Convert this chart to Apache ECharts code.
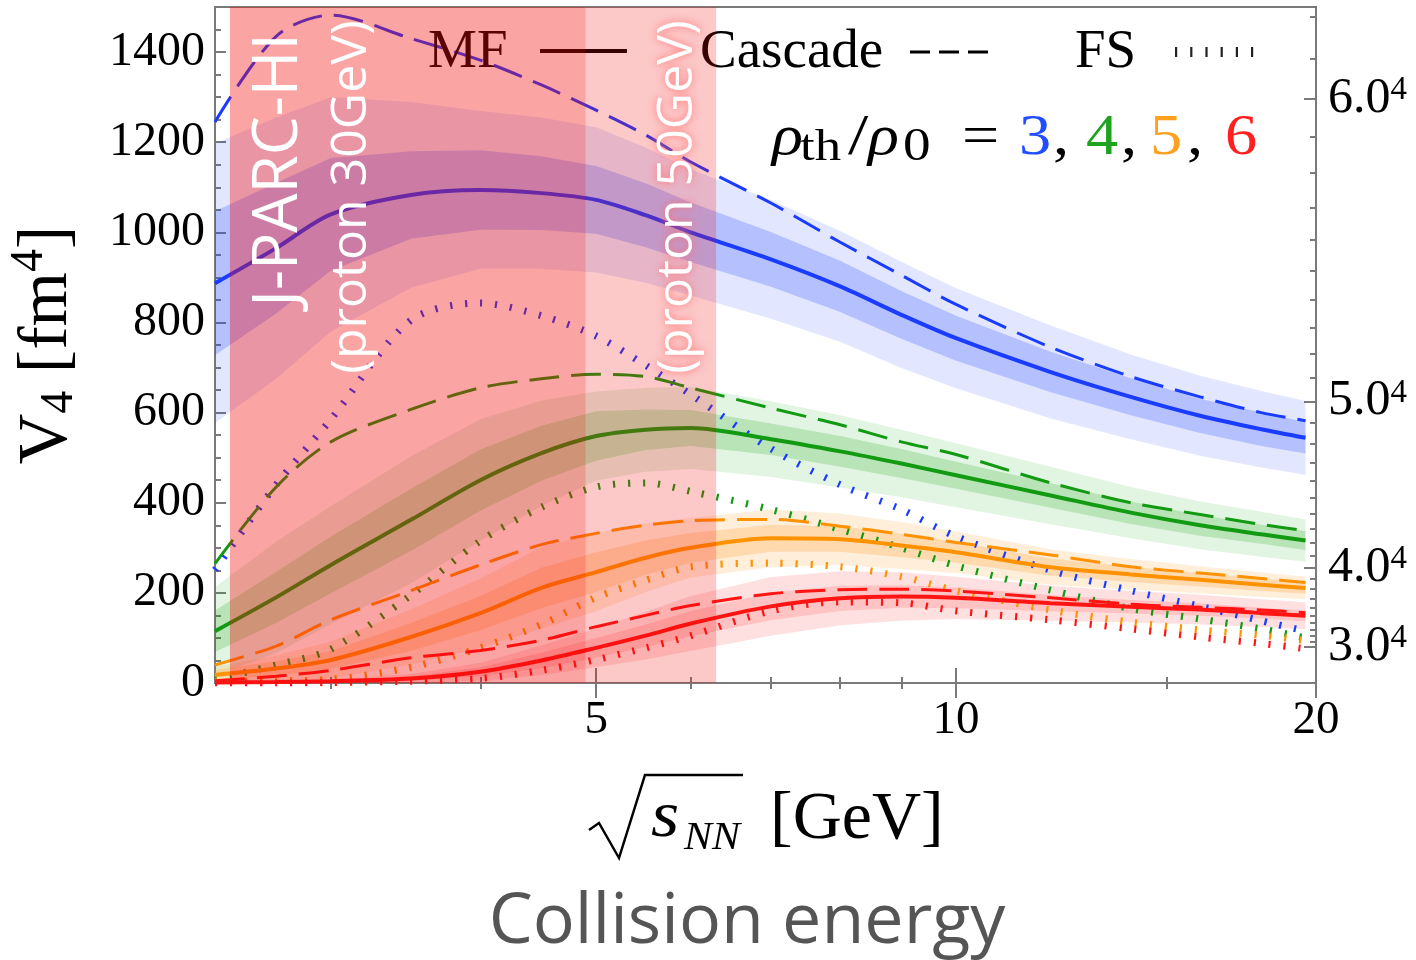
<!DOCTYPE html>
<html><head><meta charset="utf-8">
<script src="https://cdn.jsdelivr.net/npm/echarts@6/dist/echarts.min.js"></script>
<style>html,body{margin:0;padding:0;background:#fff}#c{width:1416px;height:960px}</style>
</head><body><div id="c"></div>
<script>
// ---------------- data ----------------
const energies = [2.4, 2.7, 3, 3.5, 4, 4.5, 5, 5.5, 6, 7, 8, 9, 10, 12, 14, 16, 18, 19.6];

const blueMF      = [887, 965, 1040, 1083, 1094, 1087, 1072, 1038, 1000, 940, 880, 817, 765, 690, 635, 593, 563, 544];
const blueCascade = [1245, 1435, 1482, 1430, 1382, 1327, 1271, 1216, 1156, 1065, 978, 905, 840, 745, 680, 635, 600, 582];
const blueFS      = [251, 440, 585, 805, 843, 815, 770, 705, 640, 520, 440, 385, 325, 250, 205, 170, 138, 115];
const blueInner   = [160, 145, 125, 97, 88, 82, 75, 71, 66, 61, 57, 53, 50, 45, 41, 38, 37, 35];
const blueOuter   = [310, 290, 260, 206, 175, 168, 161, 150, 140, 132, 123, 118, 111, 103, 94, 89, 85, 82];

const greenMF      = [115, 190, 262, 362, 450, 510, 548, 562, 566, 541, 514, 487, 461, 416, 378, 350, 330, 316];
const greenCascade = [265, 435, 535, 607, 655, 675, 685, 680, 655, 610, 573, 535, 507, 444, 400, 374, 352, 338];
const greenFS      = [8, 40, 75, 195, 315, 390, 435, 444, 425, 385, 341, 300, 260, 206, 165, 142, 120, 100];
const greenInner   = [46, 57, 63, 69, 68, 61, 55, 45, 40, 35, 34, 32, 30, 27, 25, 23, 21, 21];
const greenOuter   = [98, 124, 131, 141, 135, 117, 99, 93, 91, 84, 80, 75, 71, 64, 57, 53, 50, 47];

const orangeMF      = [18, 32, 51, 102, 155, 211, 246, 278, 300, 321, 319, 305, 290, 257, 241, 229, 218, 211];
const orangeCascade = [40, 82, 140, 205, 262, 307, 332, 350, 360, 363, 348, 330, 312, 284, 258, 244, 232, 223];
const orangeFS      = [3, 5, 8, 35, 78, 130, 190, 228, 258, 266, 258, 236, 205, 162, 135, 118, 106, 94];
const orangeInner   = [11, 16, 20, 31, 38, 45, 44, 38, 33, 30, 28, 26, 23, 19, 17, 15, 14, 13];
const orangeOuter   = [18, 29, 41, 61, 77, 90, 87, 76, 66, 64, 57, 52, 46, 39, 34, 30, 27, 25];

const redMF      = [1, 2, 4, 10, 25, 50, 78, 105, 132, 170, 188, 192, 189, 177, 169, 163, 155, 149];
const redCascade = [5, 15, 28, 56, 72, 95, 125, 150, 172, 198, 207, 208, 204, 189, 175, 168, 162, 156];
const redFS      = [0, 0, 1, 4, 10, 28, 52, 78, 105, 160, 180, 178, 160, 140, 120, 102, 88, 76];
const redInner   = [1, 1, 2, 5, 10, 17, 22, 25, 28, 31, 28, 25, 23, 18, 15, 14, 12, 12];
const redOuter   = [1, 2, 4, 10, 20, 33, 43, 53, 61, 65, 60, 54, 47, 39, 35, 33, 31, 30];

// J-PARC energy spans (sqrt(sNN) in GeV)
const jparcSpans = [[2.47, 4.9], [4.9, 6.3]];

// axis ticks
const xMajorTicks = [5, 10, 20];
const xLabelTicks = [5, 10, 20];
const xMinorTicks = [3, 4, 6, 7, 8, 9, 15];
const yLabelTicks = [0, 200, 400, 600, 800, 1000, 1200, 1400];
const rightMajorRoots = [3.0, 4.0, 5.0, 6.0];
const rightMinorRoots = [3.1,3.2,3.3,3.4,3.5,3.6,3.7,3.8,3.9,4.1,4.2,4.3,4.4,4.5,4.6,4.7,4.8,4.9,
                         5.1,5.2,5.3,5.4,5.5,5.6,5.7,5.8,5.9,6.1,6.2];

// ---------------- styling ----------------
const SERIF = 'Liberation Serif';
const SANS = 'Open Sans';
const AXC = '#7a7a7a';
const colors = {
  blue:   {line:'#1a3cff', band:'30,70,255',  ai:0.23, ao:0.13},
  green:  {line:'#129a12', band:'0,160,0',    ai:0.19, ao:0.115},
  orange: {line:'#ff9200', band:'255,140,0',  ai:0.20, ao:0.15},
  red:    {line:'#ff1414', band:'255,0,0',    ai:0.13, ao:0.12}
};

const sets = [
  ['blue', blueMF, blueCascade, blueFS, blueInner, blueOuter],
  ['green', greenMF, greenCascade, greenFS, greenInner, greenOuter],
  ['orange', orangeMF, orangeCascade, orangeFS, orangeInner, orangeOuter],
  ['red', redMF, redCascade, redFS, redInner, redOuter]
];

function pairs(arr) { return energies.map((x, i) => [x, arr[i]]); }

function bandSeries(mf, half, fill) {
  return {
    type: 'custom', z: 2, silent: true, animation: false, clip: true,
    data: [[energies[0], mf[0]]],
    renderItem(params, api) {
      const up = energies.map((x, i) => api.coord([x, mf[i] + half[i]]));
      const lo = energies.map((x, i) => api.coord([x, Math.max(0, mf[i] - half[i])])).reverse();
      return {type: 'polygon', shape: {points: up.concat(lo)}, style: {fill: fill}};
    }
  };
}

const series = [];
sets.forEach(s => {
  const c = colors[s[0]];
  series.push(bandSeries(s[1], s[5], `rgba(${c.band},${c.ao})`));
  series.push(bandSeries(s[1], s[4], `rgba(${c.band},${c.ai})`));
});
sets.forEach(s => {
  const c = colors[s[0]];
  series.push({type:'line', data: pairs(s[3]), showSymbol:false, smooth:0.3, z:3, silent:true,
    lineStyle:{color:c.line, width:7, type:[2.2, 12.8], cap:'butt'}});
  series.push({type:'line', data: pairs(s[2]), showSymbol:false, smooth:0.3, z:3, silent:true,
    lineStyle:{color:c.line, width:3, type:[30, 12], cap:'butt'}});
  series.push({type:'line', data: pairs(s[1]), showSymbol:false, smooth:0.3, z:3, silent:true,
    lineStyle:{color:c.line, width:4}});
});
// J-PARC shading on top of the curves
const jparcAlpha = [0.37, 0.224];
series.push({
  type: 'custom', z: 10, silent: true,
  data: jparcSpans.map((s, i) => [s[0], s[1], i]),
  renderItem(params, api) {
    const cs = params.coordSys;
    const x0 = api.coord([api.value(0), 100])[0];
    const x1 = api.coord([api.value(1), 100])[0];
    return {type:'rect', shape:{x:x0, y:cs.y, width:x1 - x0, height:cs.height},
      style:{fill:`rgba(243,9,9,${jparcAlpha[api.value(2)]})`}};
  }
});

const xBase = {type:'log', min:2.4, max:20, gridIndex:0, axisLine:{show:false}, splitLine:{show:false}, minorTick:{show:false}};
const yBase = {type:'value', min:0, max:1500, gridIndex:0, axisLine:{show:false}, splitLine:{show:false}};
const tickStyle = {color:AXC, width:2};

const yMinor = [];
for (let v = 50; v < 1500; v += 50) if (v % 200 !== 0) yMinor.push(v);

// text helper: left-aligned text positioned by its baseline
function txt(text, x, baseline, size, opts) {
  opts = opts || {};
  const fam = opts.family || SERIF;
  const font = (opts.italic ? 'italic ' : '') + size + 'px "' + fam + '"';
  return {type:'text', z: opts.z || 5, x: x, y: baseline - 0.32 * size, scaleX: opts.sx || 1,
    style:{text:text, font:font, fill: opts.color || '#000', align: opts.align || 'left', verticalAlign:'middle',
      textAlign: opts.align || 'left', textVerticalAlign:'middle'}};
}

const rhoPieces = [
  txt('ρ', 772, 157, 56, {italic:true, sx:1.15}),
  txt('th', 800, 163, 44, {sx:1.2}),
  txt('/', 848, 157, 56, {sx:1.3}),
  txt('ρ', 868, 157, 56, {italic:true, sx:1.15}),
  txt('0', 903, 163, 46, {sx:1.2}),
  txt('=', 962, 157, 56, {sx:1.18}),
  txt('3', 1019, 157, 56, {sx:1.15, color:'#1f4dff'}),
  txt(',', 1053, 157, 56, {sx:1.15}),
  txt('4', 1086, 157, 56, {sx:1.15, color:'#1ea31e'}),
  txt(',', 1121, 157, 56, {sx:1.15}),
  txt('5', 1150, 157, 56, {sx:1.15, color:'#ffa11f'}),
  txt(',', 1187, 157, 56, {sx:1.15}),
  txt('6', 1225, 157, 56, {sx:1.15, color:'#ff2020'})
];

const option = {
  animation: false,
  grid: {left:215, right:100, top:7, bottom:277, show:true, borderColor:AXC, borderWidth:2, backgroundColor:'transparent'},
  xAxis: [
    Object.assign({}, xBase, {position:'bottom',
      axisTick:{inside:true, length:15, customValues:xMajorTicks, lineStyle:tickStyle},
      axisLabel:{customValues:xLabelTicks, fontFamily:SERIF, fontSize:47, color:'#000', margin:14, formatter:v => String(Math.round(v))}}),
    Object.assign({}, xBase, {position:'bottom',
      axisTick:{inside:true, length:6, customValues:xMinorTicks, lineStyle:tickStyle},
      axisLabel:{show:false}}),
    Object.assign({}, xBase, {position:'top',
      axisTick:{inside:true, length:15, customValues:xMajorTicks, lineStyle:tickStyle},
      axisLabel:{show:false}}),
    Object.assign({}, xBase, {position:'top',
      axisTick:{inside:true, length:6, customValues:xMinorTicks, lineStyle:tickStyle},
      axisLabel:{show:false}})
  ],
  yAxis: [
    Object.assign({}, yBase, {position:'left',
      axisTick:{inside:true, length:11, customValues:yLabelTicks, lineStyle:tickStyle},
      axisLabel:{customValues:yLabelTicks, fontFamily:SERIF, fontSize:48, color:'#000', margin:10, formatter:v => String(v)}}),
    Object.assign({}, yBase, {position:'left',
      axisTick:{inside:true, length:6, customValues:yMinor, lineStyle:tickStyle},
      axisLabel:{show:false}}),
    Object.assign({}, yBase, {position:'right',
      axisTick:{inside:true, length:12, customValues:rightMajorRoots.map(r => Math.pow(r, 4)), lineStyle:tickStyle},
      axisLabel:{customValues:rightMajorRoots.map(r => Math.pow(r, 4)), margin:12, color:'#000',
        fontFamily:SERIF, fontSize:50, lineHeight:50,
        formatter: v => '{b|' + Math.pow(v, 0.25).toFixed(1) + '}{s|4}',
        rich:{b:{fontFamily:SERIF, fontSize:50, color:'#000', lineHeight:50},
              s:{fontFamily:SERIF, fontSize:33, color:'#000', verticalAlign:'top', lineHeight:50}}}}),
    Object.assign({}, yBase, {position:'right',
      axisTick:{inside:true, length:6, customValues:rightMinorRoots.map(r => Math.pow(r, 4)), lineStyle:tickStyle},
      axisLabel:{show:false}})
  ],
  series: series,
  graphic: [
    // legend (below the J-PARC shading)
    txt('MF', 428, 70, 55),
    {type:'line', z:5, shape:{x1:540, y1:51, x2:627, y2:51}, style:{stroke:'#000', lineWidth:4}},
    txt('Cascade', 700, 70, 55),
    {type:'line', z:5, shape:{x1:910, y1:52, x2:990, y2:52}, style:{stroke:'#000', lineWidth:3, lineDash:[20, 9]}},
    txt('FS', 1075, 70, 55),
    {type:'line', z:5, shape:{x1:1175, y1:52, x2:1255, y2:52}, style:{stroke:'#222', lineWidth:10, lineDash:[2.2, 13]}},
    ...rhoPieces,
    // J-PARC labels (on top)
    {type:'text', z:100, x:279, y:170, rotation:Math.PI/2, style:{text:'J-PARC-HI', font:`62px "${SANS}"`, fill:'#fff', align:'center', verticalAlign:'middle', textAlign:'center', textVerticalAlign:'middle'}},
    {type:'text', z:100, x:352, y:197, rotation:Math.PI/2, style:{text:'(proton 30GeV)', font:`50px "${SANS}"`, fill:'#fff', align:'center', verticalAlign:'middle', textAlign:'center', textVerticalAlign:'middle'}},
    {type:'text', z:100, x:678, y:197, rotation:Math.PI/2, style:{text:'(proton 50GeV)', font:`50px "${SANS}"`, fill:'#fff', align:'center', verticalAlign:'middle', textAlign:'center', textVerticalAlign:'middle', textShadowBlur:8, textShadowColor:'rgba(255,110,110,1)'}},
    // y axis title
    {type:'text', z:5, x:45, y:345, rotation:Math.PI/2, style:{
      text:'{v|V}{sub|4}{n| [fm}{sup|4}{n|]}', align:'center', verticalAlign:'middle', textAlign:'center', textVerticalAlign:'middle',
      rich:{
        v:{fontFamily:SERIF, fontSize:70, fill:'#000', lineHeight:76, verticalAlign:'bottom'},
        sub:{fontFamily:SERIF, fontSize:46, fill:'#000', lineHeight:70, verticalAlign:'bottom'},
        n:{fontFamily:SERIF, fontSize:70, fill:'#000', lineHeight:76, verticalAlign:'bottom'},
        sup:{fontFamily:SERIF, fontSize:46, fill:'#000', lineHeight:76, verticalAlign:'top'}
      }}},
    // x axis title: radical sign + s_NN [GeV]
    {type:'polyline', z:5, shape:{points:[[589,830],[599,823],[619,858],[645,775],[743,775]]}, style:{stroke:'#000', lineWidth:2.5, fill:null, lineJoin:'miter'}},
    txt('s', 651, 840, 66, {italic:true, sx:1.1}),
    txt('NN', 684, 851, 40, {italic:true, sx:1.05}),
    txt('[GeV]', 770, 842, 68),
    // caption
    txt('Collision energy', 747, 945, 70, {family:SANS, color:'#555', align:'center'})
  ]
};

const chart = echarts.init(document.getElementById('c'), null, {renderer:'canvas'});
chart.setOption(option);
</script>
</body></html>
